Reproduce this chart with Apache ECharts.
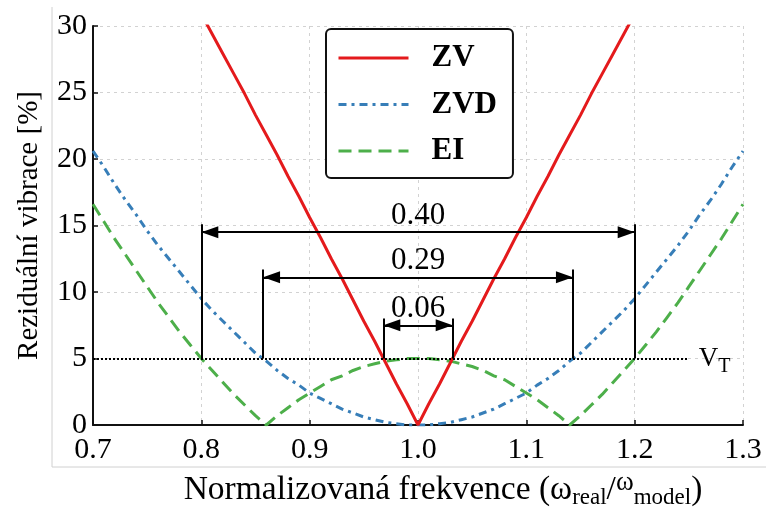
<!DOCTYPE html>
<html><head><meta charset="utf-8">
<script src="https://cdn.jsdelivr.net/npm/echarts@6/dist/echarts.min.js"></script>
<style>html,body{margin:0;padding:0;background:#fff}#c{width:766px;height:507px}</style>
</head><body><div id="c"></div>
<script>
const freq = [0.70,0.71,0.72,0.73,0.74,0.75,0.76,0.77,0.78,0.79,
  0.80,0.81,0.82,0.83,0.84,0.85,0.86,0.87,0.88,0.89,
  0.90,0.91,0.92,0.93,0.94,0.95,0.96,0.97,0.98,0.99,
  1.00,1.01,1.02,1.03,1.04,1.05,1.06,1.07,1.08,1.09,
  1.10,1.11,1.12,1.13,1.14,1.15,1.16,1.17,1.18,1.19,
  1.20,1.21,1.22,1.23,1.24,1.25,1.26,1.27,1.28,1.29,1.30];
const zvValues = [null,null,null,null,null,null,null,null,null,null,
  30.9,29.4,27.9,26.4,24.9,23.3,21.8,20.3,18.7,17.2,
  15.6,14.1,12.5,11.0,9.4,7.8,6.3,4.7,3.1,1.6,
  0.0,1.6,3.1,4.7,6.3,7.8,9.4,11.0,12.5,14.1,
  15.6,17.2,18.7,20.3,21.8,23.3,24.9,26.4,27.9,29.4,
  30.9,null,null,null,null,null,null,null,null,null,null];
const zvdValues = [20.6,19.4,18.1,16.9,15.8,14.6,13.5,12.5,11.5,10.5,
  9.5,8.6,7.8,7.0,6.2,5.4,4.8,4.1,3.5,3.0,
  2.4,2.0,1.6,1.2,0.9,0.6,0.4,0.2,0.1,0.0,
  0.0,0.0,0.1,0.2,0.4,0.6,0.9,1.2,1.6,2.0,
  2.4,3.0,3.5,4.1,4.8,5.4,6.2,7.0,7.8,8.6,
  9.5,10.5,11.5,12.5,13.5,14.6,15.8,16.9,18.1,19.4,20.6];
const eiValues = [16.6,15.3,14.0,12.8,11.6,10.4,9.2,8.1,7.0,6.0,
  5.0,4.1,3.2,2.3,1.5,0.7,0.0,0.7,1.3,1.9,
  2.4,2.9,3.4,3.7,4.1,4.4,4.6,4.8,4.9,5.0,
  5.0,5.0,4.9,4.8,4.6,4.4,4.1,3.7,3.4,2.9,
  2.4,1.9,1.3,0.7,0.0,0.7,1.5,2.3,3.2,4.1,
  5.0,6.0,7.0,8.1,9.2,10.4,11.6,12.8,14.0,15.3,16.6];
const seriesNames = ['ZV','ZVD','EI'];
const thresholdLevel = 5;
const thresholdSpan = [0.70, 1.25];
const bandLabels = ['0.40','0.29','0.06'];
const bandFrom = [0.800, 0.857, 0.968];
const bandTo = [1.200, 1.143, 1.032];
const arrowLevel = [14.5, 11.1, 7.5];
const guideTop = [15.1, 11.7, 8.0];

const FONT = 'Liberation Serif';
const ARROW = 'path://M6,0L6,0M6,17L12,34L0,34Z';
const pairs = vals => freq.map((f, i) => [f, vals[i]]);

const guideData = [];
const arrowData = [];
bandLabels.forEach((lab, i) => {
  guideData.push({coords: [[bandFrom[i], thresholdLevel], [bandFrom[i], guideTop[i]]]});
  guideData.push({coords: [[bandTo[i], thresholdLevel], [bandTo[i], guideTop[i]]]});
  arrowData.push({name: lab, coords: [[bandFrom[i], arrowLevel[i]], [bandTo[i], arrowLevel[i]]]});
});

const chart = echarts.init(document.getElementById('c'), null, {renderer: 'canvas'});
chart.setOption({
  animation: false,
  backgroundColor: '#fff',
  graphic: [
    {type: 'line', shape: {x1: 52, y1: 7, x2: 52, y2: 467}, style: {stroke: '#d0d0d0', lineWidth: 1}, silent: true},
    {type: 'line', shape: {x1: 52, y1: 467, x2: 766, y2: 467}, style: {stroke: '#d0d0d0', lineWidth: 1}, silent: true}
  ],
  grid: {left: 93, right: 23, top: 26, bottom: 82, containLabel: false, outerBoundsMode: 'none'},
  legend: {
    data: seriesNames,
    orient: 'vertical',
    left: 326, top: 29,
    padding: [11, 16, 9, 11],
    itemGap: 10.5,
    itemWidth: 70,
    itemHeight: 20,
    backgroundColor: '#fff',
    borderColor: '#111',
    borderWidth: 2,
    borderRadius: 5,
    lineStyle: {width: 3},
    itemStyle: {opacity: 0, color: 'rgba(0,0,0,0)', borderWidth: 0},
    textStyle: {fontFamily: FONT, fontSize: 31, fontWeight: 'bold', color: '#000', lineHeight: 36, padding: [0, 0, 0, 18]}
  },
  xAxis: {
    type: 'value', min: 0.7, max: 1.3, interval: 0.1,
    name: '{m|Normalizovaná frekvence (ω}{s|real}{m|/}{w|ω}{s|model}{m|)}',
    nameLocation: 'middle', nameGap: 43,
    nameTextStyle: {
      padding: [0, 0, 0, 50],
      rich: {
        m: {fontFamily: FONT, fontSize: 33.5, lineHeight: 40, color: '#000', verticalAlign: 'middle'},
        s: {fontFamily: FONT, fontSize: 23, lineHeight: 22, color: '#000', verticalAlign: 'bottom'},
        w: {fontFamily: FONT, fontSize: 27, lineHeight: 30, color: '#000', verticalAlign: 'top'}
      }
    },
    axisLine: {lineStyle: {color: '#111', width: 2}},
    axisTick: {inside: true, length: 5, lineStyle: {color: '#111', width: 1.5}},
    axisLabel: {fontFamily: FONT, fontSize: 30, color: '#000', margin: 10, formatter: v => v.toFixed(1)},
    splitLine: {show: true, lineStyle: {color: '#d2d2d2', width: 1, type: [3, 4]}}
  },
  yAxis: {
    type: 'value', min: 0, max: 30, interval: 5,
    name: 'Reziduální vibrace [%]',
    nameLocation: 'middle', nameGap: 47,
    nameTextStyle: {fontFamily: FONT, fontSize: 29, color: '#000', lineHeight: 34},
    axisLine: {show: true, lineStyle: {color: '#111', width: 2}},
    axisTick: {show: true, inside: true, length: 5, lineStyle: {color: '#111', width: 1.5}},
    axisLabel: {fontFamily: FONT, fontSize: 30, color: '#000', margin: 6},
    splitLine: {show: true, lineStyle: {color: '#d2d2d2', width: 1, type: [3, 4]}}
  },
  series: [
    {name: 'ZV', type: 'line', data: pairs(zvValues), symbol: 'none', z: 5,
     lineStyle: {color: '#e41a1c', width: 3}, itemStyle: {color: '#e41a1c'}},
    {name: 'ZVD', type: 'line', data: pairs(zvdValues), symbol: 'none', z: 4,
     lineStyle: {color: '#377eb8', width: 3, type: [8, 5, 3, 5]}, itemStyle: {color: '#377eb8'}},
    {name: 'EI', type: 'line', data: pairs(eiValues), symbol: 'none', z: 3,
     lineStyle: {color: '#4daf4a', width: 3, type: [13, 7]}, itemStyle: {color: '#4daf4a'}},
    {type: 'lines', coordinateSystem: 'cartesian2d', z: 6, silent: true,
     data: [{coords: [[thresholdSpan[0], thresholdLevel], [thresholdSpan[1], thresholdLevel]]}],
     symbol: 'none',
     lineStyle: {color: '#000', width: 2, type: [2, 2], opacity: 1},
     label: {show: true, position: 'end', distance: 10, formatter: '{v|V}{t|T}',
       rich: {
         v: {fontFamily: FONT, fontSize: 27, lineHeight: 37, color: '#000', verticalAlign: 'middle'},
         t: {fontFamily: FONT, fontSize: 20, lineHeight: 21, color: '#000', verticalAlign: 'bottom'}
       }}},
    {type: 'lines', coordinateSystem: 'cartesian2d', z: 7, silent: true,
     data: guideData, symbol: 'none',
     lineStyle: {color: '#000', width: 2, type: 'solid', opacity: 1}},
    {type: 'lines', coordinateSystem: 'cartesian2d', z: 8, silent: true,
     data: arrowData,
     symbol: [ARROW, ARROW],
     symbolSize: [[12, 34], [12, 34]],
     lineStyle: {color: '#000', width: 2, type: 'solid', opacity: 1},
     label: {show: true, position: 'middle', distance: 1, formatter: '{b}',
       fontFamily: FONT, fontSize: 31, color: '#000'}}
  ]
});
</script></body></html>
